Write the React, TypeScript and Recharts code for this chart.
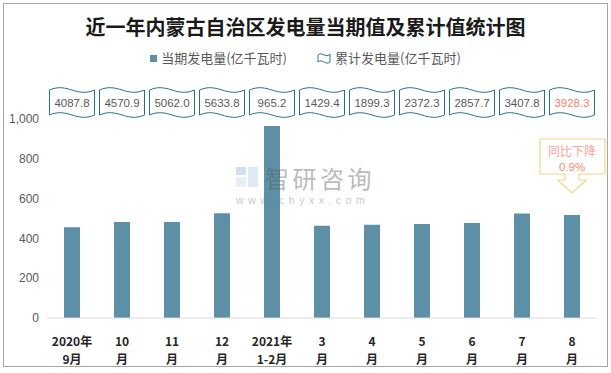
import React from "react"
import { BarChart, Bar, XAxis, YAxis, LabelList } from "recharts"

const categories = ["2020年9月", "10月", "11月", "12月", "2021年1-2月", "3月", "4月", "5月", "6月", "7月", "8月"]
const tickTop = ["2020年", "10", "11", "12", "2021年", "3", "4", "5", "6", "7", "8"]
const tickBottom = ["9月", "月", "月", "月", "1-2月", "月", "月", "月", "月", "月", "月"]
const monthly = [456, 482, 482, 526, 965.2, 464, 468, 472, 477, 525, 518]
const cumulative = [4087.8, 4570.9, 5062.0, 5633.8, 965.2, 1429.4, 1899.3, 2372.3, 2857.7, 3407.8, 3928.3]
const yTicks = [0, 200, 400, 600, 800, 1000]

const BAR_COLOR = "#5d90a7"
const FLAG_STROKE = "#2a6f8e"
const FONT = "'Liberation Sans', 'Noto Sans CJK SC', sans-serif"
const CJK = "'Noto Sans CJK SC', sans-serif"

const data = categories.map((name, i) => ({
  name,
  value: monthly[i],
  total: cumulative[i],
}))

function flagPath(cx: number, top: number, w: number, h: number) {
  const x0 = cx - w / 2
  const x1 = cx + w / 2
  const b = top + h
  return (
    `M${x0},${top + 3} C${x0 + w * 0.4},${top - 5} ${x0 + w * 0.6},${top + 11} ${x1},${top + 3} ` +
    `L${x1},${b - 3} C${x0 + w * 0.6},${b + 5} ${x0 + w * 0.4},${b - 11} ${x0},${b - 3} Z`
  )
}

const FlagLabel = (props: any) => {
  const { x, width, index, value } = props
  const cx = x + width / 2
  const last = index === categories.length - 1
  return (
    <g>
      <path d={flagPath(cx, 87, 45, 31)} fill="#fff" stroke={FLAG_STROKE} strokeWidth={1} />
      <text
        x={cx}
        y={107}
        textAnchor="middle"
        fontSize={11.5}
        fontFamily={FONT}
        fill={last ? "#f07f66" : "#595959"}
      >
        {Number(value).toFixed(1)}
      </text>
      {last && (
        <g>
          <path
            d={`M${cx - 32},139 L${cx + 33},139 L${cx + 33},174 L${cx + 7},174 L${cx + 7},180 L${cx + 14},180 L${cx},193 L${cx - 14},180 L${cx - 7},180 L${cx - 7},174 L${cx - 32},174 Z`}
            fill="#fff"
            stroke="#f6d488"
            strokeWidth={1.2}
          />
          <text x={cx} y={156} textAnchor="middle" fontSize={12} fontFamily={CJK} fill="#f4a69a">
            同比下降
          </text>
          <text x={cx} y={171} textAnchor="middle" fontSize={11.5} fontFamily={FONT} fill="#f08a70">
            0.9%
          </text>
        </g>
      )}
    </g>
  )
}

const CategoryTick = (props: any) => {
  const { x, y, index } = props
  return (
    <g>
      <text x={x} y={y + 20} textAnchor="middle" fontSize={12} fontWeight="bold" fontFamily={CJK} fill="#262626">
        {tickTop[index]}
      </text>
      <text x={x} y={y + 38} textAnchor="middle" fontSize={12} fontWeight="bold" fontFamily={CJK} fill="#262626">
        {tickBottom[index]}
      </text>
    </g>
  )
}

export default function App() {
  return (
    <div style={{ position: "absolute", left: 0, top: 0, width: 611, height: 373, background: "#fff" }}>
      <div
        style={{
          position: "absolute",
          left: 3,
          top: 3,
          width: 603,
          height: 362,
          border: "1px solid #a6a6a6",
        }}
      />
      <div
        style={{
          position: "absolute",
          top: 13,
          left: 0,
          width: 611,
          textAlign: "center",
          fontSize: 20,
          fontWeight: "bold",
          fontFamily: CJK,
          color: "#1a1a1a",
          lineHeight: "28px",
        }}
      >
        近一年内蒙古自治区发电量当期值及累计值统计图
      </div>
      <div
        style={{
          position: "absolute",
          top: 49,
          left: 0,
          width: 611,
          display: "flex",
          justifyContent: "center",
          alignItems: "center",
          fontSize: 13,
          fontFamily: CJK,
          color: "#595959",
          lineHeight: "18px",
        }}
      >
        <span style={{ display: "inline-block", width: 7, height: 7, background: BAR_COLOR, marginRight: 4 }} />
        <span>当期发电量(亿千瓦时)</span>
        <svg width={14} height={12} style={{ marginLeft: 30, marginRight: 4 }}>
          <path d="M1,3 C5,-1 9,7 13,2 L13,10 C9,14 5,6 1,10 Z" fill="#fff" stroke={FLAG_STROKE} strokeWidth={1} />
        </svg>
        <span>累计发电量(亿千瓦时)</span>
      </div>
      <div style={{ position: "absolute", left: 0, top: 0 }}>
        <BarChart width={611} height={373} data={data} margin={{ top: 119, right: 14, bottom: 15, left: 8 }}>
          <XAxis
            dataKey="name"
            interval={0}
            tickLine={false}
            axisLine={{ stroke: "#d9d9d9" }}
            height={40}
            tick={<CategoryTick />}
          />
          <YAxis
            domain={[0, 1000]}
            ticks={yTicks}
            width={39}
            tickLine={false}
            axisLine={false}
            tick={{ fontSize: 12, fill: "#595959", fontFamily: FONT }}
            tickFormatter={(v: number) => v.toLocaleString("en-US")}
          />
          <Bar dataKey="value" fill={BAR_COLOR} barSize={16} isAnimationActive={false}>
            <LabelList dataKey="total" content={<FlagLabel />} />
          </Bar>
        </BarChart>
      </div>
      {/* watermark on top of the bars */}
      <div style={{ position: "absolute", left: 234, top: 162, opacity: 0.4, pointerEvents: "none" }}>
        <svg width={180} height={50}>
          <rect x={2} y={5} width={10} height={8} fill="#8fb3d6" />
          <rect x={2} y={15} width={10} height={10} fill="#c7d8ea" />
          <rect x={14} y={5} width={10} height={20} fill="#b0c9e2" />
          <text x={31} y={26} fontSize={24} fontFamily={CJK} fill="#555" letterSpacing={3.5}>
            智研咨询
          </text>
          <text x={2} y={42} fontSize={10.5} fontFamily={FONT} fill="#777" letterSpacing={4.5}>
            www.chyxx.com
          </text>
        </svg>
      </div>
    </div>
  )
}
